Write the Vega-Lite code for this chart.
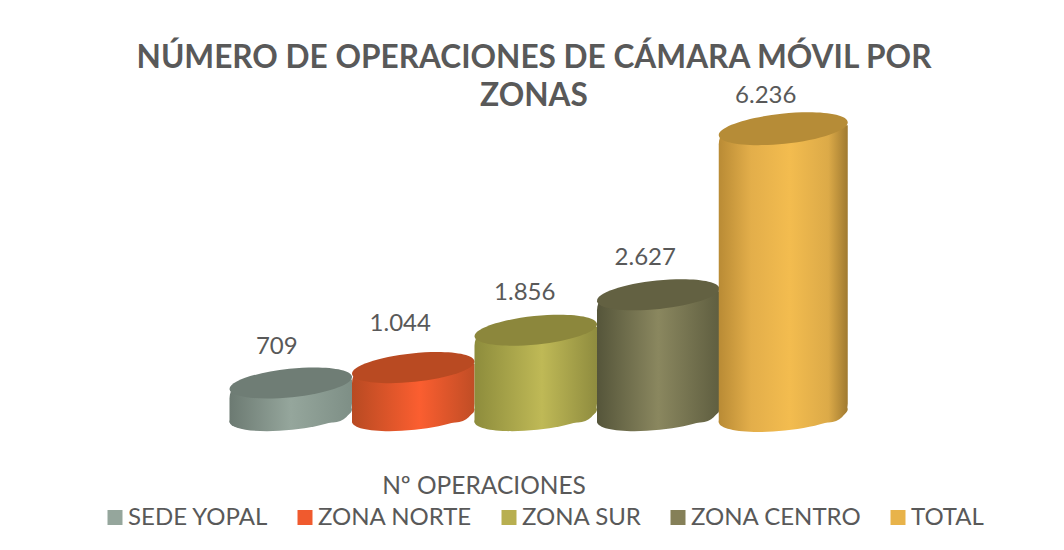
{
"$schema":"https://vega.github.io/schema/vega-lite/v6.json",
"width":1064,"height":550,"autosize":{"type":"none"},"padding":0,"background":"white",
"title":{"text":["NÚMERO DE OPERACIONES DE CÁMARA MÓVIL POR","ZONAS"],"anchor":"middle","offset":-113,"dx":2,"font":"Lato","fontSize":31.6,"fontWeight":"bold","color":"#595959","lineHeight":38},
"config":{"view":{"stroke":null}},
"data":{"values":[
{"zona":"SEDE YOPAL","valor":709,"etiqueta":"709"},
{"zona":"ZONA NORTE","valor":1044,"etiqueta":"1.044"},
{"zona":"ZONA SUR","valor":1856,"etiqueta":"1.856"},
{"zona":"ZONA CENTRO","valor":2627,"etiqueta":"2.627"},
{"zona":"TOTAL","valor":6236,"etiqueta":"6.236"}]},
"encoding":{
"x":{"field":"zona","type":"nominal","sort":null,"axis":null,"scale":{"domain":["SEDE YOPAL","ZONA NORTE","ZONA SUR","ZONA CENTRO","TOTAL"],"range":[229.5,842],"paddingInner":0,"paddingOuter":0}},
"y":{"field":"valor","type":"quantitative","axis":null,"scale":{"domain":[-2922,9035],"range":[550,0],"zero":false,"nice":false}}},
"layer":[
{"mark":{"type":"point","filled":true,"opacity":1,"size":100},"encoding":{"y":{"datum":0},"color":{"field":"zona","type":"nominal","scale":{"domain":["SEDE YOPAL","ZONA NORTE","ZONA SUR","ZONA CENTRO","TOTAL"],"range":["#95a69c","#f05a2e","#b8af50","#858058","#e8b34a"]},"legend":{"orient":"none","legendX":103,"legendY":475,"direction":"horizontal","columns":5,"columnPadding":24,"title":"Nº OPERACIONES","titleFont":"Lato","titleFontSize":24.5,"titleFontWeight":"normal","titleColor":"#595959","titleAnchor":"middle","titleLimit":400,"titlePadding":6,"labelFont":"Lato","labelFontSize":24,"labelColor":"#595959","labelLimit":300,"labelOffset":1,"symbolType":"square","symbolSize":225,"symbolStrokeWidth":0,"symbolOpacity":1,"encoding":{"title":{"dx":{"value":-59}}}}}}},

{"transform":[{"filter":"datum.zona==='SEDE YOPAL'"}],"layer":[
{"mark":{"type":"point","filled":true,"opacity":1,"size":15006,"shape":"M-0.9996,0.1042 A1.005,0.233 -5.95 1 1 0.9996,-0.1042 A1.005,0.233 -5.95 1 1 -0.9996,0.1042 Z","fill":{"gradient":"linear","x1":0,"x2":1,"y1":0,"y2":0,"stops":[{"offset":0,"color":"#6c7a72"},{"offset":0.5,"color":"#95a69c"},{"offset":1,"color":"#7e8f86"}]}},"encoding":{"y":{"datum":0}}},
{"mark":{"type":"bar","yOffset":-3.5,"cornerRadiusTopLeft":19,"cornerRadiusBottomRight":19,"color":{"gradient":"linear","x1":0,"x2":1,"y1":0,"y2":0,"stops":[{"offset":0,"color":"#6c7a72"},{"offset":0.5,"color":"#95a69c"},{"offset":1,"color":"#7e8f86"}]}},"encoding":{"y2":{"datum":-152}}},
{"mark":{"type":"point","filled":true,"opacity":1,"size":15006,"shape":"M-0.9996,0.1042 A1.005,0.233 -5.95 1 1 0.9996,-0.1042 A1.005,0.233 -5.95 1 1 -0.9996,0.1042 Z","fill":"#6f7d75"}},
{"mark":{"type":"text","xOffset":-14,"dy":-36,"font":"Lato","fontSize":24,"color":"#595959"},"encoding":{"text":{"field":"etiqueta"}}}]},

{"transform":[{"filter":"datum.zona==='ZONA NORTE'"}],"layer":[
{"mark":{"type":"point","filled":true,"opacity":1,"size":15006,"shape":"M-0.9996,0.1042 A1.005,0.233 -5.95 1 1 0.9996,-0.1042 A1.005,0.233 -5.95 1 1 -0.9996,0.1042 Z","fill":{"gradient":"linear","x1":0,"x2":1,"y1":0,"y2":0,"stops":[{"offset":0,"color":"#b84a22"},{"offset":0.55,"color":"#fb5e30"},{"offset":1,"color":"#c04d25"}]}},"encoding":{"y":{"datum":0}}},
{"mark":{"type":"bar","yOffset":-3.5,"cornerRadiusTopLeft":19,"cornerRadiusBottomRight":19,"color":{"gradient":"linear","x1":0,"x2":1,"y1":0,"y2":0,"stops":[{"offset":0,"color":"#b84a22"},{"offset":0.55,"color":"#fb5e30"},{"offset":1,"color":"#c04d25"}]}},"encoding":{"y2":{"datum":-152}}},
{"mark":{"type":"point","filled":true,"opacity":1,"size":15006,"shape":"M-0.9996,0.1042 A1.005,0.233 -5.95 1 1 0.9996,-0.1042 A1.005,0.233 -5.95 1 1 -0.9996,0.1042 Z","fill":"#b94a22"}},
{"mark":{"type":"text","xOffset":-13,"dy":-44,"font":"Lato","fontSize":24,"color":"#595959"},"encoding":{"text":{"field":"etiqueta"}}}]},

{"transform":[{"filter":"datum.zona==='ZONA SUR'"}],"layer":[
{"mark":{"type":"point","filled":true,"opacity":1,"size":15006,"shape":"M-0.9996,0.1042 A1.005,0.233 -5.95 1 1 0.9996,-0.1042 A1.005,0.233 -5.95 1 1 -0.9996,0.1042 Z","fill":{"gradient":"linear","x1":0,"x2":1,"y1":0,"y2":0,"stops":[{"offset":0,"color":"#8d8c3c"},{"offset":0.55,"color":"#bfb956"},{"offset":1,"color":"#8f8c3f"}]}},"encoding":{"y":{"datum":0}}},
{"mark":{"type":"bar","yOffset":-3.5,"cornerRadiusTopLeft":19,"cornerRadiusBottomRight":19,"color":{"gradient":"linear","x1":0,"x2":1,"y1":0,"y2":0,"stops":[{"offset":0,"color":"#8d8c3c"},{"offset":0.55,"color":"#bfb956"},{"offset":1,"color":"#8f8c3f"}]}},"encoding":{"y2":{"datum":-152}}},
{"mark":{"type":"point","filled":true,"opacity":1,"size":15006,"shape":"M-0.9996,0.1042 A1.005,0.233 -5.95 1 1 0.9996,-0.1042 A1.005,0.233 -5.95 1 1 -0.9996,0.1042 Z","fill":"#8c873c"}},
{"mark":{"type":"text","xOffset":-11,"dy":-37,"font":"Lato","fontSize":24,"color":"#595959"},"encoding":{"text":{"field":"etiqueta"}}}]},

{"transform":[{"filter":"datum.zona==='ZONA CENTRO'"}],"layer":[
{"mark":{"type":"point","filled":true,"opacity":1,"size":15006,"shape":"M-0.9996,0.1042 A1.005,0.233 -5.95 1 1 0.9996,-0.1042 A1.005,0.233 -5.95 1 1 -0.9996,0.1042 Z","fill":{"gradient":"linear","x1":0,"x2":1,"y1":0,"y2":0,"stops":[{"offset":0,"color":"#55553a"},{"offset":0.5,"color":"#8a875f"},{"offset":1,"color":"#5f5e40"}]}},"encoding":{"y":{"datum":0}}},
{"mark":{"type":"bar","yOffset":-3.5,"cornerRadiusTopLeft":19,"cornerRadiusBottomRight":19,"color":{"gradient":"linear","x1":0,"x2":1,"y1":0,"y2":0,"stops":[{"offset":0,"color":"#55553a"},{"offset":0.5,"color":"#8a875f"},{"offset":1,"color":"#5f5e40"}]}},"encoding":{"y2":{"datum":-152}}},
{"mark":{"type":"point","filled":true,"opacity":1,"size":15006,"shape":"M-0.9996,0.1042 A1.005,0.233 -5.95 1 1 0.9996,-0.1042 A1.005,0.233 -5.95 1 1 -0.9996,0.1042 Z","fill":"#636142"}},
{"mark":{"type":"text","xOffset":-13,"dy":-37,"font":"Lato","fontSize":24,"color":"#595959"},"encoding":{"text":{"field":"etiqueta"}}}]},

{"transform":[{"filter":"datum.zona==='TOTAL'"}],"layer":[
{"mark":{"type":"point","filled":true,"opacity":1,"size":16641,"xOffset":2.5,"shape":"M-0.9996,0.1042 A1.005,0.233 -5.95 1 1 0.9996,-0.1042 A1.005,0.233 -5.95 1 1 -0.9996,0.1042 Z","fill":{"gradient":"linear","x1":0,"x2":1,"y1":0,"y2":0,"stops":[{"offset":0,"color":"#b98b35"},{"offset":0.25,"color":"#e3ae4a"},{"offset":0.55,"color":"#f3bc4f"},{"offset":0.85,"color":"#dcaa48"},{"offset":1,"color":"#a07a30"}]}},"encoding":{"y":{"datum":0}}},
{"mark":{"type":"bar","width":129,"xOffset":2.5,"yOffset":-3.5,"cornerRadiusTopLeft":19,"cornerRadiusBottomRight":19,"color":{"gradient":"linear","x1":0,"x2":1,"y1":0,"y2":0,"stops":[{"offset":0,"color":"#b98b35"},{"offset":0.25,"color":"#e3ae4a"},{"offset":0.55,"color":"#f3bc4f"},{"offset":0.85,"color":"#dcaa48"},{"offset":1,"color":"#a07a30"}]}},"encoding":{"y2":{"datum":-152}}},
{"mark":{"type":"point","filled":true,"opacity":1,"size":16641,"xOffset":2.5,"shape":"M-0.9996,0.1042 A1.005,0.233 -5.95 1 1 0.9996,-0.1042 A1.005,0.233 -5.95 1 1 -0.9996,0.1042 Z","fill":"#b68c37"}},
{"mark":{"type":"text","xOffset":-15,"dy":-33,"font":"Lato","fontSize":24,"color":"#595959"},"encoding":{"text":{"field":"etiqueta"}}}]}
]}
